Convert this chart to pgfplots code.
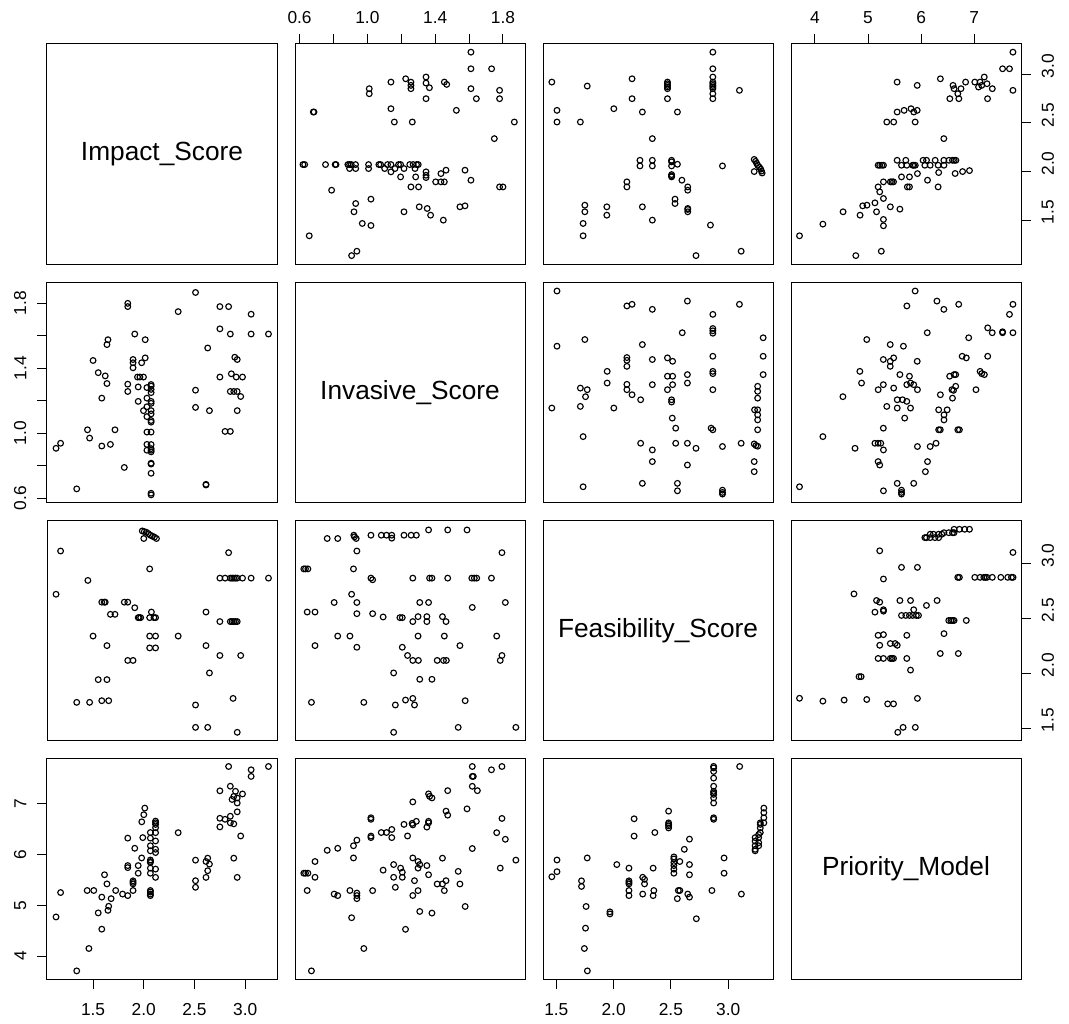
\documentclass[border=0pt]{standalone}
\usepackage{fontspec}
\setmainfont{Liberation Sans}
\usepackage{pgfplots}
\usepackage{pgfplotstable}
\pgfplotsset{compat=1.18}
\usepgfplotslibrary{groupplots}
\usetikzlibrary{calc}

% Impact vs Invasive
\pgfplotstableread{
imp inv
3.229 1.611
3.058 1.611
3.058 1.733
2.973 1.346
2.911 1.346
2.955 1.226
2.920 1.257
2.887 1.257
2.853 1.257
2.921 1.139
2.921 1.454
2.897 1.468
2.863 1.366
2.853 1.611
2.853 1.011
2.801 1.011
2.836 1.780
2.750 1.780
2.750 1.643
2.750 1.346
2.647 1.139
2.630 1.525
2.613 0.681
2.613 0.685
2.510 1.159
2.510 1.265
2.510 1.867
2.339 1.749
2.072 0.620
2.072 0.630
2.072 0.753
2.072 0.810
2.072 0.815
2.072 0.885
2.072 0.895
2.072 0.905
2.072 0.930
2.072 1.007
2.072 1.068
2.072 1.078
2.072 1.119
2.072 1.139
2.072 1.184
2.072 1.196
2.072 1.250
2.072 1.270
2.072 1.290
2.072 1.300
2.031 0.895
2.031 0.931
2.031 1.007
2.031 1.102
2.031 1.163
2.031 1.216
2.031 1.281
1.997 1.139
1.997 1.346
1.962 1.346
1.938 1.346
1.979 1.434
2.014 1.464
2.014 1.576
1.945 1.196
1.945 1.285
1.894 1.403
1.894 1.434
1.894 1.454
1.911 1.611
1.842 1.257
1.842 1.302
1.842 1.780
1.842 1.800
1.808 0.789
1.716 1.021
1.671 0.931
1.586 0.921
1.637 1.306
1.620 1.353
1.551 1.373
1.637 1.546
1.647 1.576
1.586 1.216
1.500 1.448
1.466 0.970
1.445 1.021
1.339 0.657
1.135 0.907
1.180 0.938
}\tIA

% Impact vs Feasibility
\pgfplotstableread{
imp fea
2.921 1.461
2.880 1.770
2.630 1.506
2.510 1.506
2.510 1.710
2.955 2.161
2.750 2.161
2.647 2.002
2.613 2.251
2.921 2.470
2.904 2.470
2.887 2.470
2.870 2.470
2.853 2.470
2.750 2.470
2.613 2.557
3.229 2.866
3.058 2.866
2.973 2.866
2.921 2.866
2.904 2.866
2.887 2.866
2.870 2.866
2.853 2.866
2.801 2.866
2.750 2.866
2.836 3.098
2.339 2.338
2.116 2.230
2.058 2.230
2.116 2.338
2.058 2.338
2.116 2.506
2.100 2.506
2.058 2.506
2.075 2.557
1.969 2.506
1.955 2.506
1.945 2.506
2.058 2.950
1.894 2.116
1.842 2.116
1.911 2.596
1.842 2.647
1.808 2.647
2.125 3.227
2.105 3.239
2.085 3.248
2.065 3.257
2.045 3.272
2.025 3.284
2.005 3.290
1.985 3.296
2.000 3.227
1.716 2.536
1.671 2.536
1.620 2.647
1.610 2.647
1.586 2.647
1.654 1.749
1.586 1.749
1.466 1.734
1.339 1.734
1.637 1.941
1.551 1.941
1.637 2.251
1.500 2.338
1.449 2.845
1.180 3.113
1.135 2.719
}\tIF

% Impact vs Priority
\pgfplotstableread{
imp pri
3.229 7.728
3.058 7.533
3.058 7.663
2.836 7.728
2.973 7.188
2.921 7.010
2.921 7.110
2.887 7.140
2.870 7.080
2.904 7.240
2.853 7.340
2.750 7.250
2.921 6.837
2.955 6.362
2.887 6.600
2.853 6.620
2.853 6.750
2.801 6.690
2.750 6.710
2.750 6.540
2.921 5.548
2.887 5.926
2.613 5.548
2.630 5.679
2.647 5.809
2.613 5.861
2.630 5.926
2.510 5.353
2.510 5.483
2.510 5.887
2.339 6.427
2.116 5.548
2.116 5.711
2.116 6.036
2.116 6.101
2.116 6.264
2.116 6.427
2.116 6.524
2.116 6.589
2.116 6.622
2.116 6.654
2.065 5.190
2.065 5.220
2.065 5.260
2.065 5.290
2.065 5.630
2.065 5.730
2.065 5.840
2.065 5.860
2.065 5.890
2.065 6.070
2.065 6.170
2.065 6.320
2.065 6.430
1.990 6.330
1.980 6.640
2.000 6.780
2.010 6.910
1.894 5.420
1.894 5.450
1.894 5.480
1.894 5.290
1.945 5.630
1.945 5.780
1.979 5.930
1.911 6.120
1.842 6.320
1.842 5.740
1.842 5.780
1.842 5.190
1.791 5.220
1.723 5.290
1.678 5.130
1.637 5.420
1.613 5.600
1.647 4.900
1.654 4.980
1.551 4.850
1.586 5.160
1.586 4.530
1.507 5.290
1.442 5.290
1.459 4.150
1.339 3.710
1.180 5.250
1.135 4.770
}\tIP

% Invasive vs Feasibility
\pgfplotstableread{
inv fea
1.876 1.506
1.784 2.116
1.794 2.161
1.763 2.338
1.814 2.644
1.794 3.098
1.732 2.866
1.645 2.866
1.631 2.866
1.616 2.866
1.619 2.599
1.588 3.305
1.577 1.749
1.536 1.506
1.546 2.251
1.466 2.116
1.449 2.116
1.412 2.116
1.454 2.338
1.464 2.470
1.443 2.515
1.474 2.866
1.474 3.305
1.381 1.944
1.309 1.944
1.301 2.116
1.268 2.116
1.237 2.161
1.206 2.236
1.299 2.338
1.351 2.470
1.351 2.515
1.361 2.644
1.309 2.644
1.381 2.866
1.367 2.866
1.361 3.305
1.268 2.470
1.299 2.515
1.268 2.866
1.278 1.710
1.268 1.770
1.225 1.755
1.155 1.461
1.165 1.710
1.155 2.002
1.206 2.506
1.192 2.506
1.289 3.257
1.258 3.257
1.216 3.257
1.144 3.230
1.144 3.257
1.113 3.257
1.082 3.257
1.021 3.257
1.093 2.512
1.031 2.542
1.031 2.851
1.021 2.866
0.979 1.734
0.938 2.236
0.897 2.338
0.825 2.338
0.938 2.542
0.938 2.644
0.907 2.719
0.918 2.950
0.938 3.113
0.934 3.227
0.924 3.242
0.920 3.257
0.804 2.644
0.825 3.227
0.763 3.227
0.670 1.734
0.691 2.251
0.691 2.557
0.645 2.557
0.649 2.950
0.635 2.950
0.625 2.950
}\tNF

% Invasive vs Priority
\pgfplotstableread{
inv pri
1.876 5.887
1.784 5.731
1.814 6.297
1.763 6.427
1.794 6.707
1.794 7.728
1.732 7.663
1.649 7.253
1.619 7.338
1.625 7.533
1.619 7.533
1.619 7.728
1.619 6.115
1.588 6.895
1.577 4.976
1.546 5.418
1.536 5.666
1.454 5.288
1.443 5.418
1.464 5.483
1.412 5.418
1.443 5.926
1.474 6.772
1.464 6.850
1.474 7.253
1.381 4.846
1.309 4.878
1.268 5.191
1.299 5.288
1.278 5.483
1.361 5.600
1.351 5.780
1.299 5.730
1.309 5.800
1.299 5.860
1.268 5.930
1.351 6.537
1.361 6.620
1.361 6.650
1.381 7.110
1.367 7.140
1.361 7.190
1.268 6.580
1.264 6.610
1.289 6.650
1.268 7.032
1.237 6.362
1.216 6.590
1.225 4.527
1.206 5.550
1.206 5.650
1.196 5.730
1.155 5.800
1.155 5.550
1.165 5.353
1.093 5.690
1.144 6.330
1.144 6.490
1.113 6.430
1.082 6.430
1.021 6.330
1.021 6.360
1.021 6.690
1.021 6.720
1.031 5.288
0.979 4.150
0.938 5.130
0.938 5.190
0.938 5.240
0.897 5.290
0.907 4.755
0.918 5.930
0.918 6.170
0.938 6.280
0.825 5.190
0.804 5.220
0.825 6.120
0.763 6.080
0.670 3.710
0.691 5.550
0.691 5.860
0.645 5.290
0.649 5.630
0.635 5.630
0.625 5.630
}\tNP

% Feasibility vs Priority
\pgfplotstableread{
fea pri
3.311 6.62
3.311 6.72
3.311 6.82
3.311 6.91
3.280 6.43
3.280 6.52
3.280 6.59
3.280 6.62
3.266 6.17
3.266 6.23
3.266 6.33
3.266 6.39
3.235 6.07
3.235 6.10
3.235 6.17
3.235 6.26
3.235 6.33
3.115 5.22
3.100 7.728
2.964 5.63
2.964 5.93
2.858 5.29
2.873 6.69
2.873 6.72
2.873 7.01
2.873 7.11
2.873 7.18
2.873 7.21
2.873 7.24
2.873 7.34
2.873 7.50
2.873 7.63
2.873 7.70
2.873 7.73
2.722 4.735
2.662 5.16
2.647 5.22
2.662 5.60
2.662 5.80
2.662 6.30
2.617 6.10
2.556 5.13
2.565 5.29
2.578 5.29
2.526 5.63
2.526 5.71
2.526 5.78
2.526 5.84
2.526 5.91
2.526 5.95
2.578 5.86
2.480 6.52
2.480 6.56
2.480 6.59
2.480 6.62
2.480 6.85
2.345 5.19
2.351 5.29
2.345 5.73
2.360 6.43
2.254 5.22
2.270 5.42
2.270 5.51
2.254 5.55
2.179 6.36
2.179 6.70
2.134 5.19
2.134 5.29
2.134 5.42
2.134 5.45
2.134 5.48
2.134 5.73
2.028 5.80
1.968 4.83
1.968 4.87
1.771 3.71
1.745 4.15
1.755 4.55
1.760 4.976
1.770 5.93
1.720 5.37
1.720 5.48
1.461 5.56
1.506 5.66
1.506 5.89
}\tFP

\pgfplotsset{
  ximp/.style={xmin=1.046,xmax=3.313},
  yimp/.style={ymin=1.046,ymax=3.313},
  xinv/.style={xmin=0.573,xmax=1.93},
  yinv/.style={ymin=0.573,ymax=1.93},
  xfea/.style={xmin=1.384,xmax=3.391},
  yfea/.style={ymin=1.384,ymax=3.391},
  xpri/.style={xmin=3.55,xmax=7.88},
  ypri/.style={ymin=3.55,ymax=7.88},
  diag/.style={xmin=0,xmax=1,ymin=0,ymax=1},
  topticks/.style={xtick pos=right, xticklabel pos=right,
     xticklabel style={anchor=south}},
  bottomticks/.style={xtick pos=left, xticklabel pos=left,
     xticklabel style={anchor=north, yshift=-3.5pt}},
  leftticks/.style={ytick pos=left, yticklabel pos=left,
     yticklabel style={rotate=90, anchor=south}},
  rightticks/.style={ytick pos=right, yticklabel pos=right,
     yticklabel style={rotate=90, anchor=north, xshift=6pt}},
  pts/.style={only marks, mark=o, mark size=2.15pt,
     mark options={line width=0.85pt, black}},
}
\newcommand{\diaglabel}{\fontsize{19.7}{24}\selectfont}

\begin{document}
\begin{tikzpicture}
\begin{groupplot}[
  group style={group size=4 by 4, horizontal sep=13.5pt, vertical sep=13.5pt},
  scale only axis, width=172.5pt, height=165.19pt,
  xtick=\empty, ytick=\empty,
  tick align=outside, major tick length=7.3pt,
  tick style={black, line width=0.75pt},
  axis line style={line width=0.75pt, black},
  ticklabel style={font=\fontsize{13}{15}\selectfont, inner sep=0pt, black},
  xticklabel shift=7.5pt, yticklabel shift=8pt,
]
% row 1
\nextgroupplot[diag]
\node[font=\diaglabel] at (rel axis cs:0.5,0.5) {Impact\_Score};
\nextgroupplot[xinv, yimp, topticks, xtick={0.6,0.8,1.0,1.2,1.4,1.6,1.8}, xticklabels={0.6,,1.0,,1.4,,1.8}]
\addplot[pts] table[x=inv, y=imp] {\tIA};
\nextgroupplot[xfea, yimp]
\addplot[pts] table[x=fea, y=imp] {\tIF};
\nextgroupplot[xpri, yimp, topticks, xtick={4,5,6,7}, xticklabels={4,5,6,7},
  rightticks, ytick={1.5,2,2.5,3}, yticklabels={1.5,2.0,2.5,3.0}]
\addplot[pts] table[x=pri, y=imp] {\tIP};
% row 2
\nextgroupplot[ximp, yinv, leftticks, ytick={0.6,0.8,1.0,1.2,1.4,1.6,1.8}, yticklabels={0.6,,1.0,,1.4,,1.8}]
\addplot[pts] table[x=imp, y=inv] {\tIA};
\nextgroupplot[diag]
\node[font=\diaglabel] at (rel axis cs:0.5,0.5) {Invasive\_Score};
\nextgroupplot[xfea, yinv]
\addplot[pts] table[x=fea, y=inv] {\tNF};
\nextgroupplot[xpri, yinv]
\addplot[pts] table[x=pri, y=inv] {\tNP};
% row 3
\nextgroupplot[ximp, yfea]
\addplot[pts] table[x=imp, y=fea] {\tIF};
\nextgroupplot[xinv, yfea]
\addplot[pts] table[x=inv, y=fea] {\tNF};
\nextgroupplot[diag]
\node[font=\diaglabel] at (rel axis cs:0.5,0.5) {Feasibility\_Score};
\nextgroupplot[xpri, yfea, rightticks, ytick={1.5,2,2.5,3}, yticklabels={1.5,2.0,2.5,3.0}]
\addplot[pts] table[x=pri, y=fea] {\tFP};
% row 4
\nextgroupplot[ximp, ypri, bottomticks, xtick={1.5,2,2.5,3}, xticklabels={1.5,2.0,2.5,3.0},
  leftticks, ytick={4,5,6,7}, yticklabels={4,5,6,7}]
\addplot[pts] table[x=imp, y=pri] {\tIP};
\nextgroupplot[xinv, ypri]
\addplot[pts] table[x=inv, y=pri] {\tNP};
\nextgroupplot[xfea, ypri, bottomticks, xtick={1.5,2,2.5,3}, xticklabels={1.5,2.0,2.5,3.0}]
\addplot[pts] table[x=fea, y=pri] {\tFP};
\nextgroupplot[diag]
\node[font=\diaglabel] at (rel axis cs:0.5,0.5) {Priority\_Model};
\end{groupplot}
\path ($(group c1r1.north west)+(-35.25pt,33pt)$) rectangle ++(801.75pt,-767.25pt);
\end{tikzpicture}
\end{document}
